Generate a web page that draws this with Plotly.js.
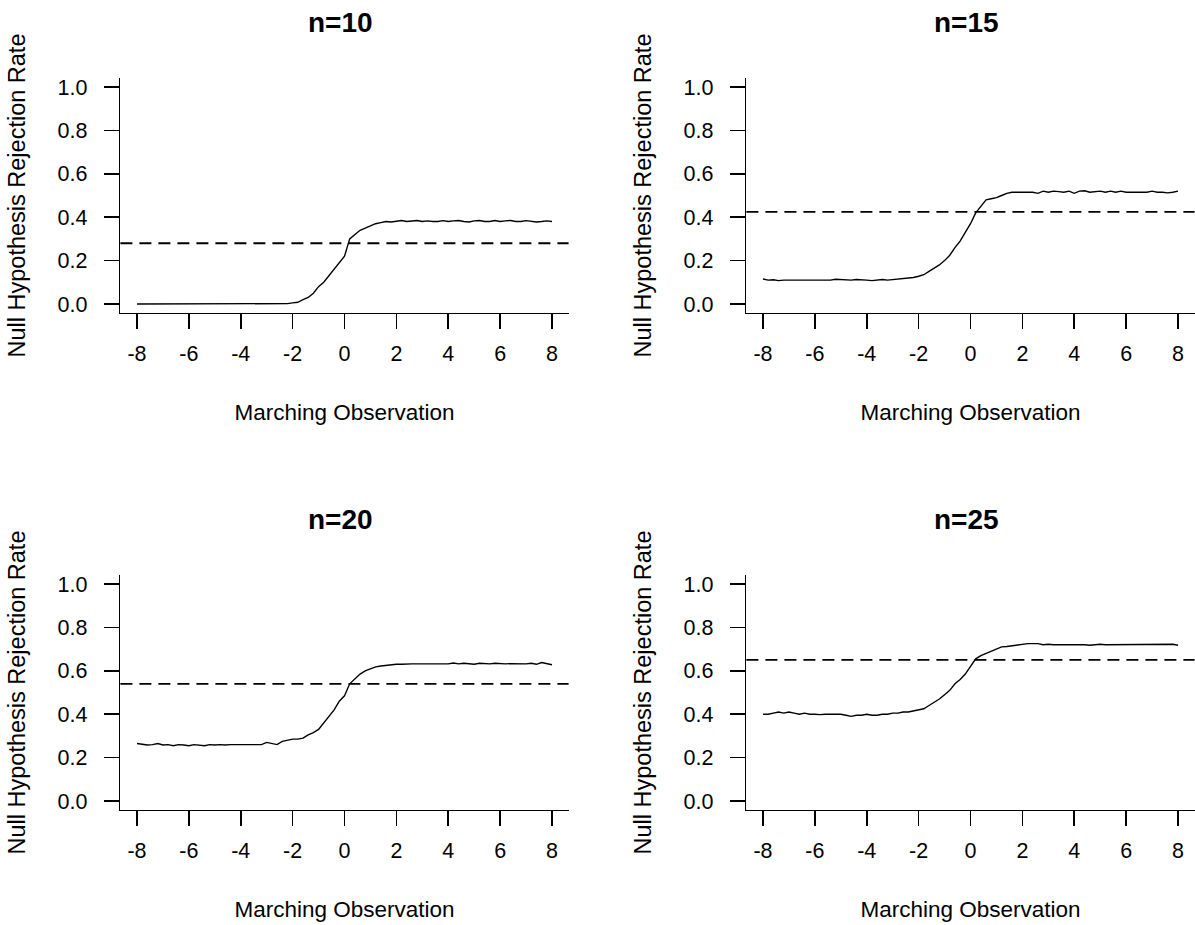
<!DOCTYPE html>
<html>
<head>
<meta charset="utf-8">
<script src="https://cdn.plot.ly/plotly-3.0.1.min.js"></script>
<style>
  html, body { margin: 0; padding: 0; background: #ffffff; }
  #chart { width: 1195px; height: 925px; }
</style>
</head>
<body>
<div id="chart"></div>
<script>
// ---------- DATA ----------
const panelTitles = ["n=10", "n=15", "n=20", "n=25"];
const xAxisTitle = "Marching Observation";
const yAxisTitle = "Null Hypothesis Rejection Rate";

const marching = [
  -8.0, -7.8, -7.6, -7.4, -7.2, -7.0, -6.8, -6.6, -6.4, -6.2,
  -6.0, -5.8, -5.6, -5.4, -5.2, -5.0, -4.8, -4.6, -4.4, -4.2,
  -4.0, -3.8, -3.6, -3.4, -3.2, -3.0, -2.8, -2.6, -2.4, -2.2,
  -2.0, -1.8, -1.6, -1.4, -1.2, -1.0, -0.8, -0.6, -0.4, -0.2,
  0.0, 0.2, 0.4, 0.6, 0.8, 1.0, 1.2, 1.4, 1.6, 1.8,
  2.0, 2.2, 2.4, 2.6, 2.8, 3.0, 3.2, 3.4, 3.6, 3.8,
  4.0, 4.2, 4.4, 4.6, 4.8, 5.0, 5.2, 5.4, 5.6, 5.8,
  6.0, 6.2, 6.4, 6.6, 6.8, 7.0, 7.2, 7.4, 7.6, 7.8,
  8.0
];

const rate_n10 = [
  0, 0, 0, 0, 0, 0, 0, 0, 0, 0,
  0, 0, 0, 0, 0, 0, 0, 0, 0, 0,
  0, 0, 0, 0, 0, 0, 0, 0, 0, 0.002,
  0.005, 0.008, 0.02, 0.03, 0.05, 0.08, 0.10, 0.13, 0.16, 0.19,
  0.22, 0.30, 0.32, 0.34, 0.35, 0.36, 0.37, 0.375, 0.38, 0.378,
  0.38, 0.385, 0.38, 0.382, 0.385, 0.38, 0.383, 0.38, 0.38, 0.384,
  0.38, 0.383, 0.385, 0.38, 0.378, 0.383, 0.385, 0.38, 0.38, 0.385,
  0.38, 0.383, 0.385, 0.38, 0.38, 0.384, 0.38, 0.378, 0.38, 0.383,
  0.38
];

const rate_n15 = [
  0.115, 0.11, 0.112, 0.108, 0.11, 0.11, 0.113, 0.11, 0.11, 0.112,
  0.11, 0.113, 0.11, 0.11, 0.114, 0.112, 0.11, 0.11, 0.113, 0.11,
  0.11, 0.108, 0.11, 0.113, 0.11, 0.112, 0.116, 0.118, 0.12, 0.122,
  0.128, 0.135, 0.15, 0.165, 0.18, 0.20, 0.225, 0.26, 0.29, 0.33,
  0.37, 0.42, 0.45, 0.48, 0.485, 0.49, 0.50, 0.51, 0.515, 0.515,
  0.515, 0.515, 0.515, 0.51, 0.52, 0.515, 0.52, 0.518, 0.515, 0.52,
  0.51, 0.52, 0.522, 0.515, 0.518, 0.52, 0.515, 0.52, 0.515, 0.52,
  0.515, 0.515, 0.518, 0.515, 0.515, 0.52, 0.515, 0.515, 0.512, 0.515,
  0.52
];

const rate_n20 = [
  0.265, 0.26, 0.258, 0.26, 0.265, 0.258, 0.26, 0.255, 0.26, 0.258,
  0.255, 0.26, 0.258, 0.255, 0.26, 0.258, 0.26, 0.258, 0.26, 0.26,
  0.26, 0.26, 0.26, 0.262, 0.26, 0.27, 0.265, 0.26, 0.275, 0.28,
  0.285, 0.285, 0.29, 0.305, 0.315, 0.33, 0.36, 0.39, 0.42, 0.46,
  0.485, 0.54, 0.565, 0.585, 0.60, 0.61, 0.618, 0.622, 0.625, 0.628,
  0.63, 0.63, 0.632, 0.632, 0.632, 0.632, 0.632, 0.635, 0.632, 0.635,
  0.632, 0.636, 0.632, 0.635, 0.632, 0.63, 0.635, 0.632, 0.632, 0.635,
  0.632, 0.632, 0.633, 0.632, 0.632, 0.632, 0.635, 0.63, 0.638, 0.632,
  0.628
];

const rate_n25 = [
  0.40, 0.40, 0.405, 0.41, 0.405, 0.41, 0.405, 0.40, 0.405, 0.40,
  0.40, 0.398, 0.40, 0.40, 0.398, 0.40, 0.395, 0.39, 0.395, 0.395,
  0.40, 0.395, 0.395, 0.40, 0.40, 0.405, 0.405, 0.41, 0.41, 0.415,
  0.42, 0.425, 0.44, 0.455, 0.47, 0.49, 0.51, 0.54, 0.56, 0.585,
  0.62, 0.655, 0.67, 0.68, 0.69, 0.70, 0.71, 0.712, 0.715, 0.72,
  0.72, 0.725, 0.725, 0.725, 0.72, 0.722, 0.72, 0.72, 0.72, 0.72,
  0.722, 0.72, 0.72, 0.718, 0.72, 0.722, 0.72, 0.72, 0.72, 0.72,
  0.72, 0.72, 0.722, 0.72, 0.72, 0.72, 0.722, 0.72, 0.72, 0.722,
  0.718
];

const thresholds = [0.28, 0.425, 0.54, 0.65];

const xTickVals = [-8, -6, -4, -2, 0, 2, 4, 6, 8];
const xTickText = ["-8", "-6", "-4", "-2", "0", "2", "4", "6", "8"];
const yTickVals = [0, 0.2, 0.4, 0.6, 0.8, 1.0];
const yTickText = ["0.0", "0.2", "0.4", "0.6", "0.8", "1.0"];

const series = [rate_n10, rate_n15, rate_n20, rate_n25];

// ---------- LAYOUT ----------
const W = 1195, H = 925;
const FONT = "Liberation Sans, Arial, sans-serif";
const TICKFONT = {family: FONT, size: 21.5, color: "#000000"};
const XTITLEFONT = {family: FONT, size: 22.5, color: "#000000"};
const YTITLEFONT = {family: FONT, size: 23.5, color: "#000000"};

// plot-region pixel boxes [left, right, top, bottom]
const boxes = [
  [120.4, 568.6, 78.3, 312.7],
  [746.4, 1194.6, 78.3, 312.7],
  [120.4, 568.6, 575.3, 809.7],
  [746.4, 1194.6, 575.3, 809.7]
];

const traces = [];
const layout = {
  width: W, height: H,
  margin: {l: 0, r: 0, t: 0, b: 0},
  paper_bgcolor: "#ffffff",
  plot_bgcolor: "#ffffff",
  showlegend: false,
  annotations: [],
  shapes: []
};

for (let k = 0; k < 4; k++) {
  const sfx = k === 0 ? "" : String(k + 1);
  const b = boxes[k];
  const xd = [b[0] / W, b[1] / W];
  const yd = [1 - b[3] / H, 1 - b[2] / H];

  traces.push({
    type: "scatter", mode: "lines",
    x: marching, y: series[k],
    xaxis: "x" + sfx, yaxis: "y" + sfx,
    line: {color: "#000000", width: 1.4},
    hoverinfo: "skip"
  });

  layout["xaxis" + sfx] = {
    domain: xd, anchor: "y" + sfx,
    range: [-8.64, 8.64],
    showgrid: false, zeroline: false,
    showline: true, linecolor: "#000000", linewidth: 1.6,
    ticks: "outside", ticklen: 15, tickwidth: 1.6, tickcolor: "#000000",
    tickmode: "array", tickvals: xTickVals, ticktext: xTickText,
    tickfont: TICKFONT, ticklabelstandoff: 6,
    title: {text: xAxisTitle, font: XTITLEFONT, standoff: 39},
    fixedrange: true
  };
  layout["yaxis" + sfx] = {
    domain: yd, anchor: "x" + sfx,
    range: [-0.04, 1.04],
    showgrid: false, zeroline: false,
    showline: true, linecolor: "#000000", linewidth: 1.6,
    ticks: "outside", ticklen: 15, tickwidth: 1.6, tickcolor: "#000000",
    tickmode: "array", tickvals: yTickVals, ticktext: yTickText,
    tickfont: TICKFONT, ticklabelstandoff: 12,
    title: {text: yAxisTitle, font: YTITLEFONT, standoff: 25},
    fixedrange: true
  };

  layout.shapes.push({
    type: "line", xref: "x" + sfx + " domain", yref: "y" + sfx,
    x0: 0, x1: 1, y0: thresholds[k], y1: thresholds[k],
    line: {color: "#000000", width: 1.8, dash: "12px,7px"}
  });

  layout.annotations.push({
    text: "<b>" + panelTitles[k] + "</b>",
    xref: "paper", yref: "paper",
    x: (b[0] + b[1]) / 2 / W - 0.003,
    y: 1 - (b[2] - 56) / H,
    xanchor: "center", yanchor: "middle",
    showarrow: false,
    font: {family: FONT, size: 28, color: "#000000"}
  });
}

Plotly.newPlot("chart", traces, layout, {staticPlot: true, displayModeBar: false});
</script>
</body>
</html>
